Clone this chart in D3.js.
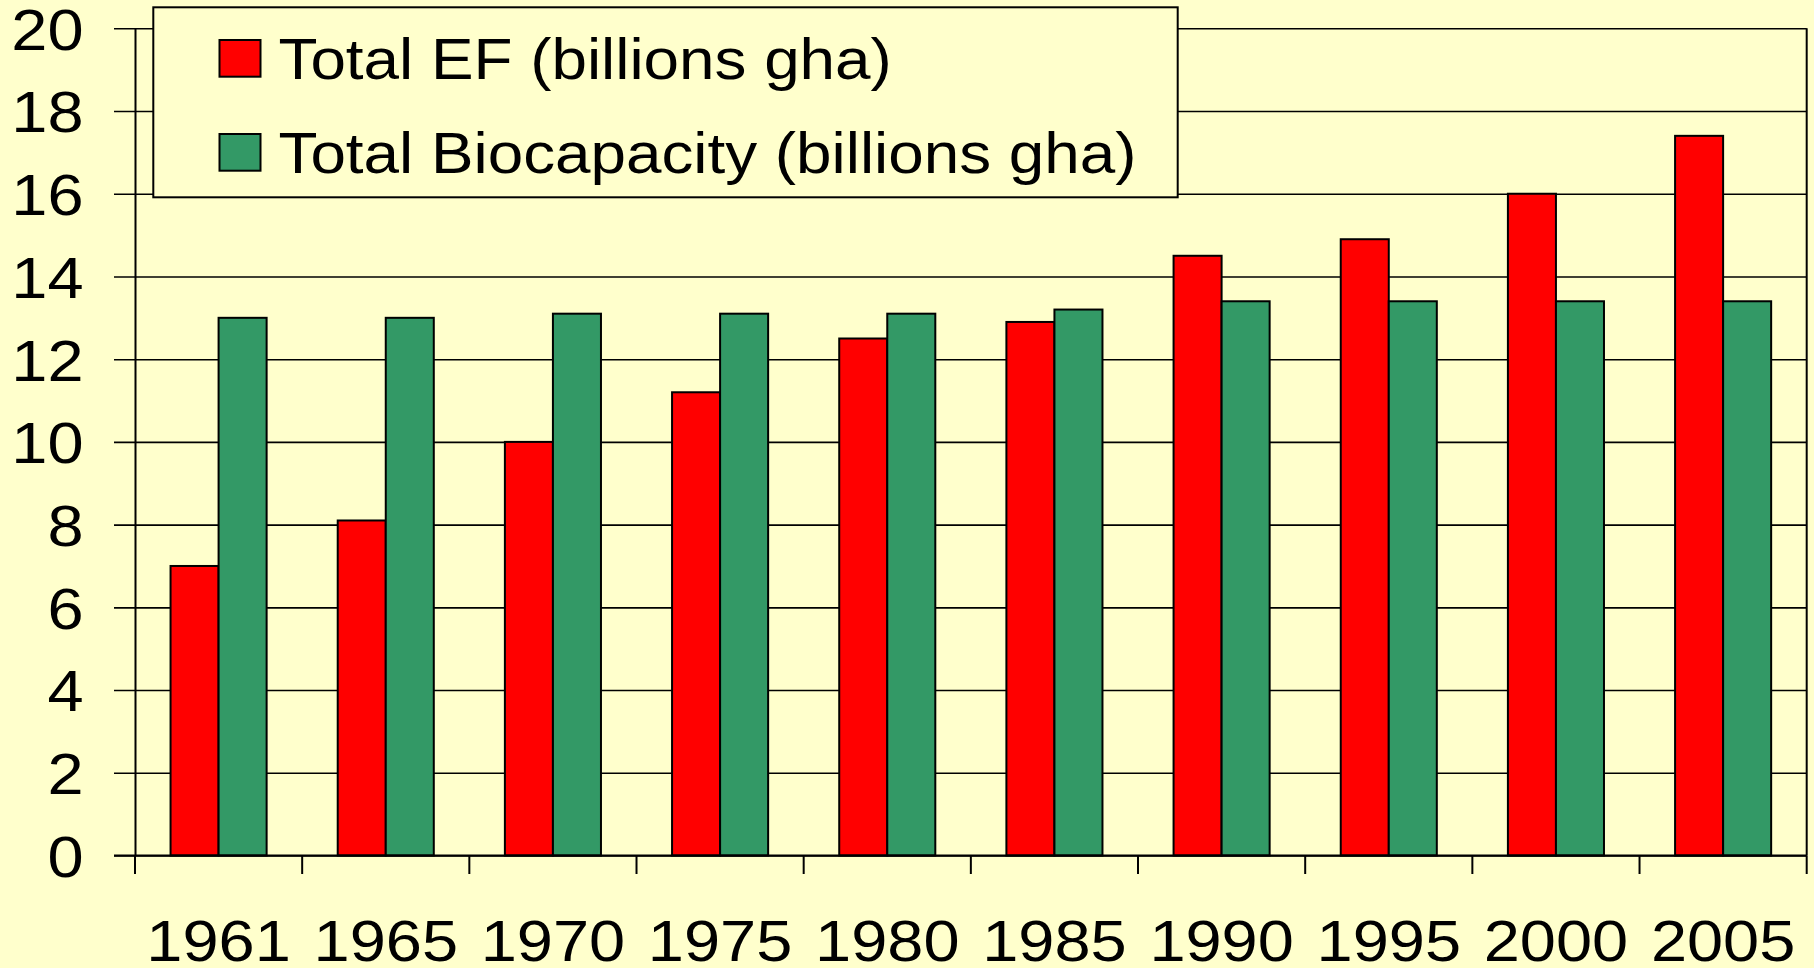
<!DOCTYPE html>
<html>
<head>
<meta charset="utf-8">
<script src="https://cdn.jsdelivr.net/npm/d3@7"></script>
<style>
  html, body { margin: 0; padding: 0; background: #FFFFCC; }
  svg { display: block; }
</style>
</head>
<body>
<svg id="canvas"></svg>
<script>
// chart data
const years = ["1961", "1965", "1970", "1975", "1980", "1985", "1990", "1995", "2000", "2005"];
const seriesNames = ["Total EF (billions gha)", "Total Biocapacity (billions gha)"];
const totalEF = [7.0, 8.1, 10.0, 11.2, 12.5, 12.9, 14.5, 14.9, 16.0, 17.4];
const totalBiocapacity = [13.0, 13.0, 13.1, 13.1, 13.1, 13.2, 13.4, 13.4, 13.4, 13.4];
const yTicks = [0, 2, 4, 6, 8, 10, 12, 14, 16, 18, 20];
const colors = ["#FF0000", "#339966"];

const svgWidth = 1814;
const svgHeight = 968;
const plotLeft = 135;
const plotRight = 1806.7;
const plotTop = 28.3;
const plotBottom = 855.5;
const fontFamily = "'Liberation Sans', Arial, sans-serif";
const stretch = 1.12; // text in the picture is a bit wider than plain Arial

const svg = d3.select("#canvas")
    .attr("width", svgWidth)
    .attr("height", svgHeight)
    .style("background-color", "#FFFFCC");

const x0 = d3.scaleBand()
    .domain(years)
    .range([plotLeft, plotRight])
    .padding(0);

const x1 = d3.scaleBand()
    .domain(seriesNames)
    .range([0, x0.bandwidth()])
    .paddingInner(0)
    .paddingOuter(0.74);

const y = d3.scaleLinear()
    .domain([0, 20])
    .range([plotBottom, plotTop]);

const rows = years.map((yr, i) => ({ year: yr, values: [totalEF[i], totalBiocapacity[i]] }));

// gridlines + left ticks
svg.append("g")
    .attr("transform", "translate(" + plotRight + ",0)")
    .call(d3.axisLeft(y).tickValues(yTicks).tickSize(plotRight - plotLeft + 21).tickSizeOuter(0).tickFormat(""))
    .call(g => g.select(".domain").remove())
    .call(g => g.selectAll("line").attr("stroke", "#000").attr("stroke-width", 1.6));

// y axis labels + axis line
const yAxis = svg.append("g")
    .attr("transform", "translate(" + plotLeft + ",0)")
    .call(d3.axisLeft(y).tickValues(yTicks).tickSize(0).tickSizeOuter(0))
    .call(g => g.select(".domain").attr("stroke", "#000").attr("stroke-width", 2));

yAxis.selectAll("text")
    .attr("x", -51.5 / stretch)
    .attr("dy", "0.36em")
    .attr("transform", "scale(" + stretch + ",1)")
    .style("font-family", fontFamily)
    .style("font-size", "58px")
    .style("fill", "#000");

// bars
const groups = svg.append("g")
    .selectAll("g")
    .data(rows)
    .enter()
    .append("g")
    .attr("transform", d => "translate(" + x0(d.year) + ",0)");

groups.selectAll("rect")
    .data(d => d.values.map((v, i) => ({ key: seriesNames[i], value: v, idx: i })))
    .enter()
    .append("rect")
    .attr("x", d => x1(d.key))
    .attr("y", d => y(d.value))
    .attr("width", x1.bandwidth())
    .attr("height", d => y(0) - y(d.value))
    .attr("fill", d => colors[d.idx])
    .attr("stroke", "#000")
    .attr("stroke-width", 2);

// x axis: baseline, boundary ticks, labels
svg.append("line")
    .attr("x1", plotLeft - 21).attr("x2", plotRight)
    .attr("y1", y(0)).attr("y2", y(0))
    .attr("stroke", "#000").attr("stroke-width", 2);

const boundaries = years.map(d => x0(d)).concat([x0.range()[1]]);
svg.append("g")
    .selectAll("line")
    .data(boundaries)
    .enter()
    .append("line")
    .attr("x1", d => d).attr("x2", d => d)
    .attr("y1", y(0)).attr("y2", y(0) + 18.5)
    .attr("stroke", "#000").attr("stroke-width", 2);

// right frame
svg.append("line")
    .attr("x1", plotRight).attr("x2", plotRight)
    .attr("y1", plotTop).attr("y2", y(0))
    .attr("stroke", "#000").attr("stroke-width", 2);

const xAxis = svg.append("g")
    .attr("transform", "translate(0," + y(0) + ")")
    .call(d3.axisBottom(x0).tickSize(0).tickSizeOuter(0))
    .call(g => g.select(".domain").remove());

xAxis.selectAll("text")
    .attr("y", 106)
    .attr("dy", 0)
    .attr("x", 0)
    .attr("transform", "scale(" + stretch + ",1)")
    .style("font-family", fontFamily)
    .style("font-size", "58px")
    .style("fill", "#000");

// legend
const legend = svg.append("g");
legend.append("rect")
    .attr("x", 153.3).attr("y", 7.3)
    .attr("width", 1024.4).attr("height", 190)
    .attr("fill", "#FFFFCC")
    .attr("stroke", "#000")
    .attr("stroke-width", 2);

const legendRows = [40, 134];
seriesNames.forEach((name, i) => {
    legend.append("rect")
        .attr("x", 219.5).attr("y", legendRows[i])
        .attr("width", 41).attr("height", 36.7)
        .attr("fill", colors[i])
        .attr("stroke", "#000")
        .attr("stroke-width", 2);
    legend.append("text")
        .attr("transform", "translate(278.5," + (legendRows[i] + 39) + ") scale(1.1,1)")
        .style("font-family", fontFamily)
        .style("font-size", "58px")
        .style("fill", "#000")
        .text(name);
});
</script>
</body>
</html>
